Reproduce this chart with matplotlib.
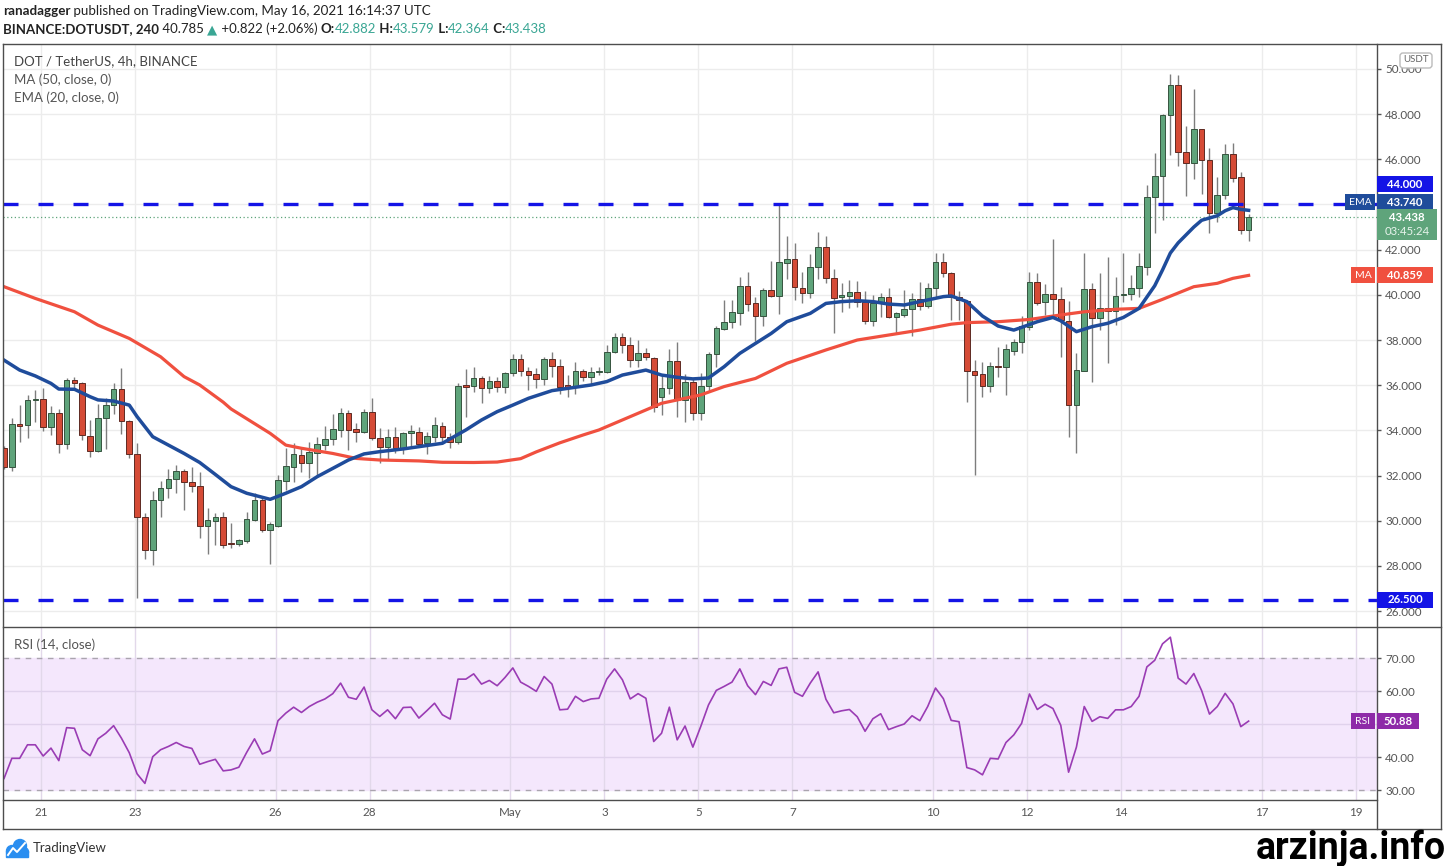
import numpy as np
import matplotlib.pyplot as plt
from matplotlib.patches import Rectangle, FancyBboxPatch, Circle
from matplotlib.lines import Line2D
from matplotlib.transforms import IdentityTransform

plt.rcParams['font.family'] = ['Lato', 'DejaVu Sans']

# ---- DOT/USDT 4h candles (20 Apr 04:00 .. 16 May 16:00 UTC)
opens = [33.21, 32.40, 34.27, 34.24, 35.35, 35.39, 34.17, 34.78, 33.38, 36.23,
         36.12, 33.77, 33.09, 34.53, 35.12, 35.82, 34.43, 32.96, 30.18, 28.71,
         30.92, 31.47, 31.83, 32.22, 31.70, 31.55, 29.77, 30.00, 30.15, 29.00,
         28.97, 29.12, 30.04, 30.92, 29.59, 29.77, 31.78, 32.40, 32.91, 32.57,
         33.00, 33.35, 33.61, 34.02, 34.76, 34.05, 33.92, 34.83, 33.65, 33.25,
         33.72, 33.24, 33.87, 33.94, 33.43, 33.72, 34.20, 33.69, 33.50, 35.97,
         35.97, 36.33, 35.89, 36.19, 35.94, 36.53, 37.16, 36.64, 36.48, 36.27,
         37.16, 36.86, 35.98, 35.97, 36.64, 36.38, 36.57, 36.57, 37.48, 38.12,
         37.78, 37.11, 37.44, 37.22, 35.46, 35.86, 37.08, 35.35, 36.16, 34.79,
         35.97, 37.38, 38.47, 38.81, 39.21, 40.40, 39.62, 39.06, 40.21, 39.96,
         41.42, 41.57, 40.32, 40.10, 41.25, 42.13, 40.76, 39.89, 39.96, 40.11,
         39.70, 38.86, 39.62, 39.89, 39.03, 39.11, 39.37, 39.80, 39.50, 40.29,
         41.44, 40.95, 39.92, 39.74, 36.64, 36.48, 35.98, 36.87, 36.82, 37.53,
         37.93, 38.59, 40.55, 39.70, 40.02, 39.80, 38.85, 35.12, 36.64, 40.24,
         38.96, 39.40, 39.28, 39.98, 40.02, 40.32, 41.25, 44.34, 45.26, 47.98,
         49.28, 46.33, 45.82, 47.32, 45.96, 43.60, 44.42, 46.23, 45.23, 42.882]
highs = [33.30, 34.53, 35.12, 35.57, 35.79, 35.86, 35.08, 34.93, 36.30, 36.35,
         36.16, 34.46, 35.15, 35.42, 36.08, 36.75, 34.46, 33.46, 30.36, 31.33,
         31.77, 32.28, 32.47, 32.28, 32.39, 32.17, 30.55, 30.33, 30.39, 29.89,
         29.20, 30.40, 31.22, 30.99, 29.96, 32.03, 33.21, 33.43, 33.21, 33.50,
         33.72, 34.19, 34.71, 34.98, 34.90, 34.31, 34.93, 35.42, 34.12, 34.05,
         34.17, 33.93, 34.24, 34.17, 33.94, 34.61, 34.35, 33.90, 36.10, 36.70,
         36.79, 36.41, 36.41, 36.38, 36.60, 37.38, 37.37, 36.82, 36.75, 37.23,
         37.45, 37.16, 36.45, 37.04, 36.70, 36.79, 36.82, 37.78, 38.30, 38.30,
         38.15, 38.00, 37.63, 37.26, 36.45, 37.59, 37.93, 36.50, 36.30, 36.53,
         37.48, 38.62, 39.77, 39.77, 40.77, 41.02, 39.92, 40.29, 41.50, 43.97,
         42.60, 42.31, 41.02, 41.81, 42.79, 42.60, 41.14, 40.51, 40.65, 40.63,
         40.18, 39.99, 40.07, 40.29, 39.25, 40.21, 40.10, 40.58, 40.51, 41.86,
         41.84, 41.02, 40.17, 39.77, 37.12, 37.01, 37.04, 37.70, 37.81, 38.03,
         39.06, 41.02, 40.95, 40.48, 42.45, 40.36, 39.74, 37.41, 41.86, 40.51,
         40.95, 41.66, 40.77, 41.86, 40.88, 41.86, 44.86, 46.26, 48.00, 49.77,
         49.72, 47.47, 49.09, 47.36, 46.48, 45.23, 46.67, 46.73, 45.45, 43.579]
lows = [32.30, 32.20, 33.50, 33.65, 34.39, 33.99, 33.80, 33.01, 33.18, 35.86,
        33.57, 32.84, 33.06, 33.16, 34.73, 33.84, 32.77, 26.57, 28.30, 28.04,
        30.15, 30.99, 31.24, 30.48, 31.29, 29.22, 28.53, 28.93, 28.78, 28.78,
        28.90, 29.00, 29.97, 29.52, 28.09, 29.74, 31.36, 31.73, 32.17, 31.88,
        31.95, 33.13, 33.35, 33.72, 33.13, 33.50, 33.87, 33.58, 32.54, 32.69,
        33.02, 32.96, 33.28, 33.28, 32.96, 33.50, 33.50, 33.20, 33.40, 34.61,
        35.71, 35.23, 35.64, 35.71, 35.67, 36.41, 36.41, 35.79, 35.86, 36.01,
        36.38, 35.61, 35.46, 35.61, 36.20, 36.05, 36.45, 36.53, 37.41, 37.41,
        36.82, 36.82, 37.11, 34.80, 34.68, 35.60, 34.61, 34.39, 34.46, 34.46,
        35.71, 36.82, 38.44, 38.52, 38.66, 39.30, 37.97, 38.62, 39.92, 39.15,
        40.69, 39.77, 39.65, 39.85, 40.69, 40.51, 38.33, 39.25, 39.40, 39.47,
        38.71, 38.64, 39.03, 38.99, 38.33, 39.00, 38.18, 39.33, 39.40, 39.92,
        40.80, 38.88, 38.88, 35.27, 32.03, 35.49, 35.71, 36.38, 35.57, 37.34,
        37.41, 38.44, 39.55, 39.11, 39.11, 37.26, 33.72, 33.02, 36.64, 36.16,
        38.44, 36.99, 38.67, 39.70, 39.77, 39.92, 40.87, 42.72, 43.31, 46.19,
        45.70, 44.37, 45.11, 44.46, 42.72, 43.21, 44.22, 45.00, 42.69, 42.364]
closes = [32.40, 34.28, 34.21, 35.35, 35.40, 34.17, 34.78, 33.38, 36.23, 36.11,
          33.80, 33.09, 34.53, 35.12, 35.82, 34.43, 32.96, 30.18, 28.71, 30.92,
          31.47, 31.83, 32.22, 31.73, 31.54, 29.77, 30.03, 30.15, 28.93, 28.98,
          29.15, 30.06, 30.92, 29.59, 29.84, 31.81, 32.42, 32.94, 32.57, 33.06,
          33.40, 33.62, 34.05, 34.76, 34.02, 33.93, 34.83, 33.65, 33.28, 33.72,
          33.21, 33.90, 33.97, 33.40, 33.75, 34.24, 33.69, 33.50, 35.97, 35.94,
          36.33, 35.89, 36.19, 35.94, 36.53, 37.16, 36.64, 36.45, 36.27, 37.16,
          36.86, 35.94, 35.94, 36.64, 36.38, 36.57, 36.60, 37.48, 38.12, 37.78,
          37.11, 37.41, 37.26, 35.05, 35.86, 37.08, 35.35, 36.16, 34.79, 35.97,
          37.38, 38.52, 38.81, 39.25, 40.40, 39.59, 39.06, 40.21, 39.96, 41.44,
          41.57, 40.33, 40.10, 41.25, 42.13, 40.76, 39.85, 39.98, 40.11, 39.70,
          38.86, 39.62, 39.89, 39.03, 39.18, 39.37, 39.80, 39.50, 40.32, 41.44,
          40.95, 39.92, 39.77, 36.64, 36.45, 35.98, 36.85, 36.79, 37.60, 37.93,
          38.62, 40.55, 39.62, 40.02, 39.80, 38.88, 35.12, 36.67, 40.24, 38.96,
          39.40, 39.28, 39.96, 40.02, 40.32, 41.29, 44.34, 45.26, 47.98, 49.28,
          46.33, 45.82, 47.32, 45.96, 43.60, 44.42, 46.23, 45.15, 42.87, 43.438]

# MA(50) and EMA(20) sampled along the drawn lines (bar index, value)
ma_bars = [0, 4, 9, 12, 16, 20, 23, 25, 28, 29, 34, 36, 38, 42, 45, 48, 53, 56, 60, 63,
           66, 68, 71, 74, 76, 80, 84, 89, 92, 96, 100, 105, 109, 113, 117, 121, 123,
           127, 131, 135, 138, 142, 145, 148, 152, 155, 157, 159]
ma_vals = [40.36, 39.84, 39.25, 38.66, 38.07, 37.26, 36.38, 36.01, 35.25, 34.95, 33.87,
           33.35, 33.21, 32.98, 32.76, 32.69, 32.65, 32.59, 32.58, 32.60, 32.75, 33.05,
           33.45, 33.80, 34.02, 34.61, 35.20, 35.57, 35.94, 36.30, 36.97, 37.56, 38.00,
           38.22, 38.44, 38.70, 38.77, 38.81, 38.91, 39.11, 39.25, 39.36, 39.40, 39.80,
           40.36, 40.51, 40.73, 40.86]
ema_bars = [0, 2, 4, 6, 7, 9, 11, 12, 14, 16, 17, 19, 21, 23, 25, 27, 29, 31, 34, 36,
            38, 40, 42, 44, 46, 48, 51, 53, 56, 59, 61, 63, 65, 67, 70, 72, 75, 77, 79,
            82, 84, 86, 88, 90, 92, 94, 96, 98, 100, 103, 105, 107, 109, 111, 113, 115,
            117, 120, 121, 123, 125, 127, 129, 130, 132, 134, 135, 137, 139, 141, 143,
            145, 146, 147, 148, 149, 150, 152, 153, 155, 156, 157, 158, 159]
ema_vals = [37.11, 36.67, 36.41, 36.08, 35.83, 35.82, 35.49, 35.35, 35.30, 35.12, 34.61,
            33.72, 33.35, 32.98, 32.58, 32.05, 31.51, 31.22, 30.95, 31.22, 31.51, 31.95,
            32.32, 32.69, 32.96, 33.06, 33.18, 33.28, 33.43, 34.02, 34.46, 34.83, 35.12,
            35.42, 35.76, 35.86, 36.01, 36.16, 36.45, 36.67, 36.45, 36.35, 36.28, 36.32,
            36.82, 37.41, 37.85, 38.29, 38.81, 39.18, 39.62, 39.70, 39.74, 39.70, 39.59,
            39.55, 39.70, 39.92, 39.95, 39.70, 39.06, 38.62, 38.44, 38.56, 38.81, 39.00,
            38.85, 38.37, 38.59, 38.74, 39.00, 39.40, 39.90, 40.40, 41.10, 41.85, 42.30,
            43.00, 43.30, 43.50, 43.72, 43.86, 43.78, 43.74]

# RSI(14), one value per bar
rsi_vals = [33.5, 39.6, 39.6, 43.7, 43.7, 40.3, 42.7, 38.9, 48.9, 48.7,
            42.2, 40.4, 45.5, 47.2, 49.5, 45.7, 41.3, 34.9, 32.0, 40.1,
            42.2, 43.2, 44.4, 43.2, 42.6, 37.8, 38.6, 39.3, 35.8, 36.1,
            36.9, 41.4, 45.5, 40.9, 41.9, 51.0, 53.3, 55.1, 53.5, 55.3,
            56.6, 57.6, 59.2, 62.4, 58.1, 57.5, 61.2, 54.3, 52.3, 54.3,
            51.6, 55.0, 55.1, 51.8, 54.0, 56.3, 52.8, 51.5, 63.6, 63.6,
            65.2, 62.1, 63.2, 61.6, 64.1, 67.0, 62.7, 61.4, 59.9, 64.4,
            62.1, 54.3, 54.5, 58.4, 56.8, 57.6, 57.8, 63.6, 66.7, 63.4,
            57.6, 59.2, 57.8, 44.7, 47.2, 55.1, 45.2, 49.4, 43.0, 49.2,
            55.8, 60.2, 61.4, 62.7, 66.7, 61.6, 58.9, 62.9, 61.7, 66.7,
            67.2, 59.6, 58.4, 62.4, 65.8, 57.5, 53.4, 54.0, 54.4, 52.2,
            47.8, 51.6, 53.1, 48.3, 49.2, 50.0, 52.5, 51.0, 55.3, 60.9,
            57.7, 51.1, 50.7, 36.8, 36.1, 34.6, 39.6, 39.4, 44.4, 46.7,
            50.2, 59.1, 54.4, 56.0, 54.7, 49.6, 35.4, 43.0, 55.3, 50.8,
            52.2, 51.7, 54.3, 54.3, 55.3, 58.4, 67.3, 69.3, 74.3, 76.3,
            63.9, 62.1, 65.3, 60.1, 53.0, 55.3, 59.3, 56.1, 49.2, 50.88]

day_labels = ['21', '23', '26', '28', 'May', '3', '5', '7', '10', '12', '14', '17', '19']
day_offsets = [0, 2, 5, 7, 10, 12, 14, 16, 19, 21, 23, 26, 28]   # days after 21 Apr
price_ticks = list(range(26, 51, 2))
rsi_ticks = [30, 40, 50, 60, 70]
levels = [44.0, 26.5]
last_price = 43.438
ma_last, ema_last, rsi_last = 40.859, 43.740, 50.88

GREEN, RED = '#5fa47b', '#d54b36'
BLUE_LVL, EMA_C, MA_C, RSI_C = '#1414e6', '#1f4c9b', '#f0503f', '#8e2aa8'
TXT = '#444444'

W, H = 1447, 866
L, R, T, SEP, BOT, FR = 3, 1377, 44, 627, 800, 829
PX = IdentityTransform()

fig = plt.figure(figsize=(W / 100, H / 100), dpi=100)
ax = fig.add_axes([L / W, 1 - SEP / H, (R - L) / W, (SEP - T) / H])
axr = fig.add_axes([L / W, 1 - BOT / H, (R - L) / W, (BOT - SEP) / H], sharex=ax)

bars = np.arange(len(closes))
tick_pos = 4.7 + 6 * np.array(day_offsets)
ax.set_xlim(-0.13, 175.4)
ax.set_ylim(25.3, 51.1)
axr.set_ylim(26.97, 79.4)

# grids
for t in tick_pos:
    ax.axvline(t, color='#ececec', lw=1, zorder=0)
    axr.axvline(t, color='#e2d8ea', lw=1, zorder=0.5)
for p in price_ticks:
    ax.axhline(p, color='#ececec', lw=1, zorder=0)

# candles
o, h, l, c = map(np.array, (opens, highs, lows, closes))
up = c >= o
ax.vlines(bars, l, h, color='#7d7d7d', lw=1, zorder=2)
lo = np.minimum(o, c)
ht = np.maximum(np.abs(c - o), 0.05)
ax.bar(bars[up], ht[up], bottom=lo[up], width=0.72, color=GREEN,
       edgecolor='#36543f', lw=0.7, zorder=3)
ax.bar(bars[~up], ht[~up], bottom=lo[~up], width=0.72, color=RED,
       edgecolor='#5e2a22', lw=0.7, zorder=3)

ax.plot(ma_bars, ma_vals, color=MA_C, lw=2.3, zorder=4, solid_joinstyle='round')
ax.plot(ema_bars, ema_vals, color=EMA_C, lw=2.5, zorder=5, solid_joinstyle='round')
for lv in levels:
    ax.axhline(lv, color=BLUE_LVL, lw=2.4, dashes=(4.5, 6), zorder=6)
ax.axhline(last_price, color=GREEN, lw=0.9, dashes=(1, 2), zorder=1)

# RSI pane
axr.axhspan(30, 70, color='#f4e7fc', zorder=0)
for r in (40, 50, 60):
    axr.axhline(r, color='#e0d2ec', lw=1, zorder=0.6)
for r in (30, 70):
    axr.axhline(r, color='#aaa4ae', lw=1, dashes=(4, 4), zorder=1)
axr.plot(bars, rsi_vals, color='#9a3cb4', lw=1.2, zorder=3)

for a in (ax, axr):
    for s in a.spines.values():
        s.set_visible(False)
    a.yaxis.tick_right()
    a.tick_params(axis='y', length=3, width=1, color='#555555', labelsize=8.4,
                  labelcolor='#555555', pad=3)
# scale labels hidden under the value tags are left blank
ax.set_yticks(price_ticks)
ax.set_yticklabels(['' if p == levels[0] else f'{p:.3f}' for p in price_ticks])
axr.set_yticks(rsi_ticks)
axr.set_yticklabels(['' if r == 50 else f'{r:.2f}' for r in rsi_ticks])
axr.set_xticks(tick_pos)
axr.set_xticklabels(day_labels)
ax.tick_params(axis='x', length=0, labelbottom=False)
axr.tick_params(axis='x', length=0, pad=5, labelsize=8.4, labelcolor='#555555')

# frame
def hline(y, x0=L, x1=1441, col='#4d4d4d'):
    fig.add_artist(Line2D([x0, x1], [H - y, H - y], transform=PX, color=col, lw=1))

def vline(x, y0=T, y1=FR, col='#4d4d4d'):
    fig.add_artist(Line2D([x, x], [H - y0, H - y1], transform=PX, color=col, lw=1))

hline(T); hline(SEP); hline(BOT, x1=R); hline(FR)
vline(L); vline(R); vline(1441)

# value tags on the scale
def tag(a, value, text, color, x0=R, w=56, h=16, dy=0, fs=8.2, weight='bold'):
    yc = a.transData.transform((0, value))[1] + dy
    fig.add_artist(Rectangle((x0, yc - h / 2), w, h, transform=PX, facecolor=color,
                             edgecolor='none', zorder=5))
    fig.text((x0 + w / 2) / W, yc / H, text, color='white', fontsize=fs,
             fontweight=weight, ha='center', va='center', zorder=6)

tag(ax, levels[0], f'{levels[0]:.3f}', BLUE_LVL, dy=20)
tag(ax, ema_last, 'EMA', EMA_C, x0=R - 32, w=30, dy=8, fs=7.5, weight='normal')
tag(ax, ema_last, f'{ema_last:.3f}', EMA_C, dy=8)
tag(ax, ma_last, 'MA', MA_C, x0=R - 26, w=24, fs=7.5, weight='normal')
tag(ax, ma_last, f'{ma_last:.3f}', MA_C)
tag(ax, levels[1], f'{levels[1]:.3f}', BLUE_LVL)
tag(axr, rsi_last, 'RSI', RSI_C, x0=R - 26, w=24, fs=7.5, weight='normal')
tag(axr, rsi_last, f'{rsi_last:.2f}', RSI_C, w=42)

yl = ax.transData.transform((0, last_price))[1]
fig.add_artist(Rectangle((R, yl - 23), 60, 31, transform=PX, facecolor=GREEN,
                         edgecolor='none', zorder=5))
fig.text((R + 30) / W, yl / H, f'{last_price:.3f}', color='white', fontsize=8.2,
         fontweight='bold', ha='center', va='center', zorder=6)
fig.text((R + 30) / W, (yl - 14) / H, '03:45:24', color='#e8f4ec', fontsize=8.2,
         ha='center', va='center', zorder=6)

fig.add_artist(FancyBboxPatch((1400, H - 68), 32, 15, boxstyle='round,pad=0,rounding_size=3',
                              transform=PX, facecolor='white', edgecolor='#bbbbbb', lw=1, zorder=5))
fig.text(1416 / W, 1 - 60 / H, 'USDT', color='#666666', fontsize=7, ha='center',
         va='center', zorder=6)

# legends
fig.text(14 / W, 1 - 61 / H, 'DOT / TetherUS, 4h, BINANCE', color=TXT, fontsize=9.5, va='center')
fig.text(14 / W, 1 - 80 / H, 'MA (50, close, 0)', color='#555555', fontsize=9.5, va='center')
fig.text(14 / W, 1 - 98 / H, 'EMA (20, close, 0)', color='#555555', fontsize=9.5, va='center')
fig.text(14 / W, 1 - 645 / H, 'RSI (14, close)', color='#555555', fontsize=9.5, va='center')

# header lines
renderer = fig.canvas.get_renderer()

def run(x, y, parts, size):
    for s, col, wt in parts:
        t = fig.text(x / W, 1 - y / H, s, color=col, fontsize=size, fontweight=wt,
                     va='center', ha='left')
        x += t.get_window_extent(renderer).width

TEAL = '#3aa694'
run(3, 11, [('ranadagger', '#222222', 'bold'),
            (' published on TradingView.com, May 16, 2021 16:14:37 UTC', '#222222', 'normal')], 9.6)
run(3, 29, [('BINANCE:DOTUSDT, 240', '#222222', 'bold'), (' 40.785 ', '#222222', 'normal'),
            ('▲', TEAL, 'normal'), (' +0.822 (+2.06%) ', '#222222', 'normal'),
            ('O:', '#222222', 'bold'), ('42.882', TEAL, 'normal'),
            (' H:', '#222222', 'bold'), ('43.579', TEAL, 'normal'),
            (' L:', '#222222', 'bold'), ('42.364', TEAL, 'normal'),
            (' C:', '#222222', 'bold'), ('43.438', TEAL, 'normal')], 9.5)

# TradingView mark
for cx, cy, rr in [(12, 851, 5.5), (20, 846, 6.5), (24, 852, 4.5)]:
    fig.add_artist(Circle((cx, H - cy), rr, transform=PX, color='#2a8ef0', zorder=5))
fig.add_artist(Rectangle((6, H - 857), 22, 6, transform=PX, color='#2a8ef0', zorder=5))
fig.add_artist(Line2D([8, 13, 17, 25], [H - 855, H - 848, H - 852, H - 843], transform=PX,
                      color='white', lw=1.4, zorder=6))
fig.text(33 / W, 1 - 848 / H, 'TradingView', color='#333333', fontsize=9.5, va='center')

fig.text(1446 / W, 1 - 848 / H, 'arzinja.info', color='black', fontsize=27, fontweight='bold',
         family=['Roboto', 'DejaVu Sans'], ha='right', va='center')

fig.savefig('out.png', dpi=100)
